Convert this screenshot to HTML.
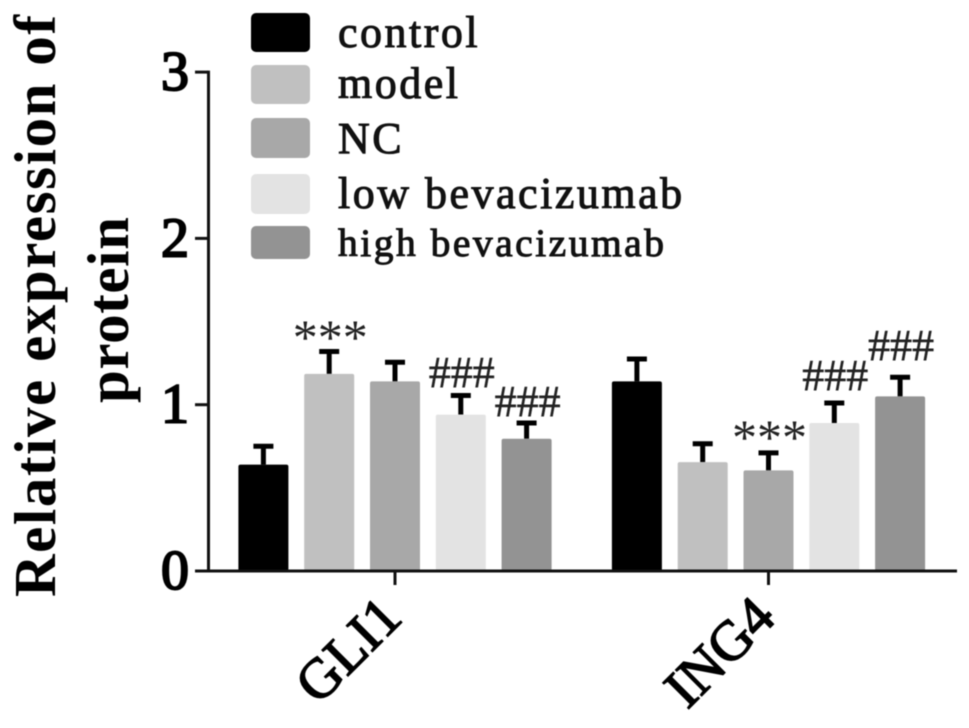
<!DOCTYPE html>
<html lang="en">
<head>
<meta charset="utf-8">
<title>Relative expression of protein</title>
<style>
html,body{margin:0;padding:0;background:#fff;width:969px;height:728px;overflow:hidden}
svg{display:block;font-family:"Liberation Serif",serif;filter:blur(0.5px)}
</style>
</head>
<body>
<svg id="chart" width="969" height="728" viewBox="0 0 969 728" xmlns="http://www.w3.org/2000/svg">
  <g id="legend"></g>
  <g id="bars"></g>
  <g id="axes"></g>
  <text transform="translate(55,597) rotate(-90)" font-size="59" font-weight="700" textLength="582" lengthAdjust="spacing">Relative expression of</text>
  <text transform="translate(128,403) rotate(-90)" font-size="59" font-weight="700" textLength="186" lengthAdjust="spacing">protein</text>
</svg>
<script>
const categories = ['GLI1', 'ING4'];
const seriesNames = ['control', 'model', 'NC', 'low bevacizumab', 'high bevacizumab'];
const gli1Values = [0.64, 1.185, 1.14, 0.94, 0.795];
const ing4Values = [1.14, 0.655, 0.605, 0.89, 1.05];
const gli1ErrorTops = [0.75, 1.32, 1.255, 1.055, 0.89];
const ing4ErrorTops = [1.275, 0.765, 0.71, 1.01, 1.165];
const gli1Marks = ['', '***', '', '###', '###'];
const ing4Marks = ['', '', '***', '###', '###'];
const gli1MarkLevels = [0, 1.305, 0, 1.106, 0.932];
const ing4MarkLevels = [0, 0, 0.703, 1.088, 1.269];
const yTicks = [0, 1, 2, 3];
const seriesColors = ['#000000', '#c0c0c0', '#a8a8a8', '#e3e3e3', '#939393'];

const NS = 'http://www.w3.org/2000/svg';
const y = v => 571 - v * 166.3;
const groupCenter = i => 395 + i * 373.5;
const barCenter = (g, s) => groupCenter(g) + (s - 2) * 65.8;
const barWidth = 50;

function make(parent, tag, attrs, text) {
  const el = document.createElementNS(NS, tag);
  for (const k in attrs) el.setAttribute(k, attrs[k]);
  if (text !== undefined) el.textContent = text;
  parent.appendChild(el);
  return el;
}

const barsLayer = document.getElementById('bars');
const axesLayer = document.getElementById('axes');
const legendLayer = document.getElementById('legend');

[gli1Values, ing4Values].forEach((values, g) => {
  const tops = g === 0 ? gli1ErrorTops : ing4ErrorTops;
  const marks = g === 0 ? gli1Marks : ing4Marks;
  const levels = g === 0 ? gli1MarkLevels : ing4MarkLevels;
  values.forEach((v, s) => {
    const cx = barCenter(g, s);
    const err = make(barsLayer, 'path', {
      d: `M${cx} ${y(v)}V${y(tops[s])}M${cx - 10} ${y(tops[s])}H${cx + 10}`,
      stroke: '#000', 'stroke-width': 5, fill: 'none'
    });
    
    
    const bar = make(barsLayer, 'rect', {
      x: cx - barWidth / 2, y: y(v), width: barWidth, height: y(0) - y(v),
      rx: 2, fill: seriesColors[s]
    });
    
    
    if (marks[s]) {
      const isStar = marks[s] === '***';
      const mark = make(barsLayer, 'text', {
        x: cx + 1, y: y(levels[s]),
        'text-anchor': 'middle', 'font-size': isStar ? 50 : 44, fill: '#222',
        stroke: '#222', 'stroke-width': isStar ? 0 : 0.5
      }, marks[s]);
      
      
    }
  });
});

const yAxisLine = make(axesLayer, 'line', {x1: 208.5, x2: 208.5, y1: y(3) - 1.5, y2: y(0) + 1.5, stroke: '#111', 'stroke-width': 3});


const xAxisLine = make(axesLayer, 'line', {x1: 207, x2: 957, y1: y(0), y2: y(0), stroke: '#111', 'stroke-width': 3});



yTicks.forEach(t => {
  const tick = make(axesLayer, 'line', {x1: 195, x2: 208, y1: y(t), y2: y(t), stroke: '#111', 'stroke-width': 3});
  
  
  const label = make(axesLayer, 'text', {x: 189, y: y(t) + 18, 'text-anchor': 'end', 'font-size': 56, stroke: '#000', 'stroke-width': 2}, String(t));
  
  
});

categories.forEach((c, i) => {
  const cx = groupCenter(i);
  const tick = make(axesLayer, 'line', {x1: cx, x2: cx, y1: y(0), y2: y(0) + 14, stroke: '#111', 'stroke-width': 3});
  
  
  const label = make(axesLayer, 'text', {
    transform: `translate(${cx + 9},${620}) rotate(-45)`,
    'text-anchor': 'end', 'font-size': 56, stroke: '#000', 'stroke-width': 1.5
  }, c);
  
  
});

const legendTops = [13, 65, 118, 174, 226];
const legendHeights = [39, 39, 40, 40, 33];
const legendBaselines = [47, 98, 153, 208, 256];
const legendFontSizes = [44, 44, 44, 44, 39.5];
seriesNames.forEach((n, i) => {
  const swatch = make(legendLayer, 'rect', {x: 251, y: legendTops[i], width: 59, height: legendHeights[i], rx: 5, fill: seriesColors[i]});
  
  
  const label = make(legendLayer, 'text', {
    x: 338, y: legendBaselines[i], 'font-size': legendFontSizes[i], 'letter-spacing': 2.5,
    fill: '#111', stroke: '#111', 'stroke-width': 1
  }, n);
  
  
});
</script>
</body>
</html>
